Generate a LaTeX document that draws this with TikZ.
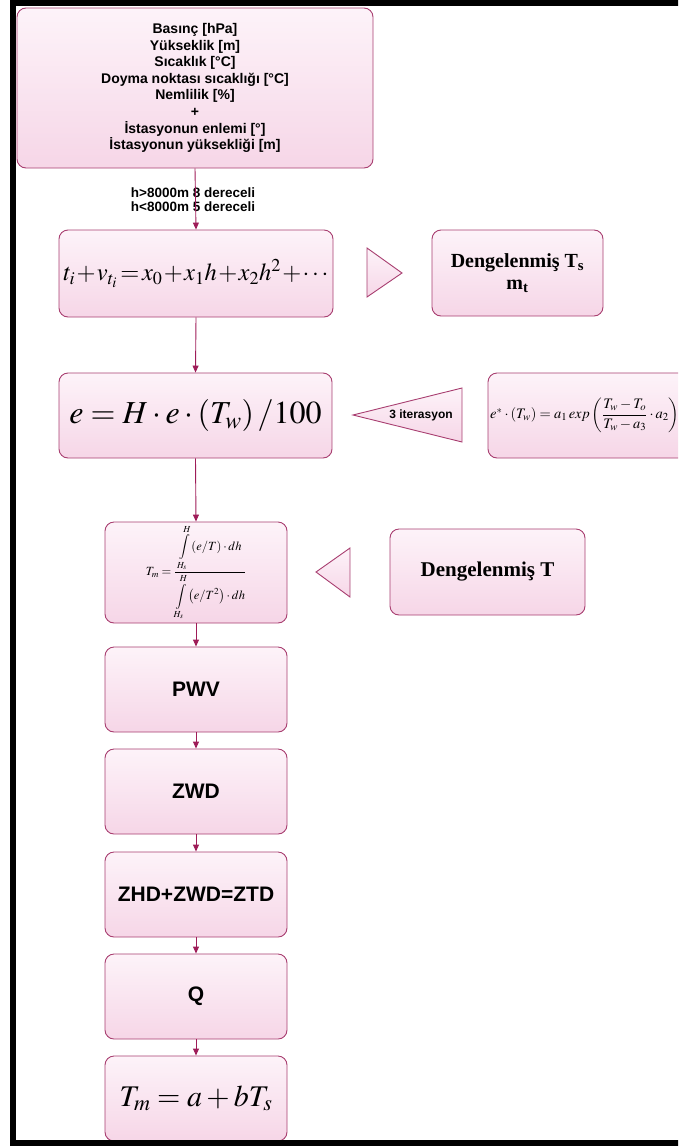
\documentclass[tikz,border=0pt]{standalone}
\usepackage{mathptmx}
\usepackage[no-math]{fontspec}
\setmainfont{Liberation Serif}
\setsansfont{Liberation Sans}
\usetikzlibrary{arrows.meta}

\definecolor{edge}{RGB}{168,62,112}
\definecolor{flow}{RGB}{158,28,88}
\definecolor{pinkhi}{RGB}{253,243,249}
\definecolor{pinklo}{RGB}{246,214,231}

\begin{document}
\begin{tikzpicture}[x=1pt,y=-1pt,
  box/.style={draw=edge, line width=0.9pt, rounded corners=9pt,
    top color=pinkhi, bottom color=pinklo, inner sep=0pt},
  stage/.style={box, minimum width=182pt, minimum height=85pt,
    font=\sffamily\bfseries\fontsize{21}{24}\selectfont},
  tri/.style={draw=edge, line width=0.9pt, top color=pinkhi, bottom color=pinklo},
  flowarrow/.style={draw=flow, line width=0.9pt, -{Triangle[length=7pt,width=6pt]}},
  lbl/.style={font=\sffamily\bfseries\fontsize{13.5}{13.5}\selectfont, align=center, inner sep=0pt}
]
\useasboundingbox (0,0) rectangle (678,1146);
\clip (0,0) rectangle (678,1146);

% input data
\node[box, minimum width=356pt, minimum height=160pt, align=center,
  font=\sffamily\bfseries\fontsize{14}{16.6}\selectfont] (src) at (195,88)
  {Basınç [hPa]\\Yükseklik [m]\\Sıcaklık [°C]\\Doyma noktası sıcaklığı [°C]\\Nemlilik [\%]\\+\\İstasyonun enlemi [°]\\İstasyonun yüksekliği [m]};

\node[lbl] (cond) at (193,199.5) {h>8000m 8 dereceli\\h<8000m 5 dereceli};

% polynomial fit (tight operator spacing)
\node[box, minimum width=274pt, minimum height=87pt] (poly) at (196,273.5)
  {\fontsize{24.5}{28}\selectfont\medmuskip=1mu\thickmuskip=2mu
   $t_i + v_{t_i} = x_0 + x_1h + x_2h^2 + \cdots$};
\draw[tri] (367,248) -- (402,273) -- (367,297) -- cycle;
\node[box, minimum width=171pt, minimum height=86pt, align=center,
  font=\bfseries\fontsize{20}{22}\selectfont] (ts) at (517.5,273)
  {Dengelenmiş T\textsubscript{s}\\m\textsubscript{t}};

% vapour pressure
\node[box, minimum width=273pt, minimum height=85pt] (hum) at (195.5,415.5)
  {\fontsize{32}{36}\selectfont $e = H\cdot e\cdot\left(T_w\right)/100$};
\draw[tri] (353,415) -- (462,388) -- (462,442) -- cycle;
\node[font=\sffamily\bfseries\fontsize{12}{14}\selectfont, inner sep=0pt] (iter) at (421,415) {3 iterasyon};
\node[box, minimum width=240pt, minimum height=85pt] (sat) at (608,415.5) {};
\node[anchor=west, inner sep=0pt, font=\fontsize{14.5}{16}\selectfont] (satf) at (490,415)
  {$e^{*}\cdot\left(T_w\right) = a_1\,exp\left(\displaystyle\frac{T_w - T_o}{T_w - a_3}\cdot a_2\right)$};

% weighted mean temperature
\node[box, minimum width=182pt, minimum height=101pt] (tmint) at (196,572.5)
  {\fontsize{12.5}{14}\selectfont $\displaystyle T_m = \frac{\displaystyle\int\limits_{H_s}^{H}\left(e/T\right)\cdot dh}{\displaystyle\int\limits_{H_s}^{H}\left(e/T^2\right)\cdot dh}$};
\draw[tri] (316,572) -- (350,548) -- (350,597) -- cycle;
\node[box, minimum width=195pt, minimum height=86pt,
  font=\bfseries\fontsize{21}{24}\selectfont] (tbal) at (487.5,572) {Dengelenmiş T};

% chain of results
\node[stage] (pwv) at (196,689.5) {PWV};
\node[stage] (zwd) at (196,791.5) {ZWD};
\node[stage] (ztd) at (196,894.5) {ZHD+ZWD=ZTD};
\node[stage] (q) at (196,996.5) {Q};
\node[stage] (tmlin) at (196,1098.5) {\rmfamily\mdseries\fontsize{30}{34}\selectfont $T_m = a + bT_s$};

% connectors
\draw[flowarrow] (src.south) -- (poly.north);
\draw[flowarrow] (poly.south) -- (hum.north);
\draw[flowarrow] (hum.south) -- (tmint.north);
\draw[flowarrow] (tmint.south) -- (pwv.north);
\draw[flowarrow] (pwv.south) -- (zwd.north);
\draw[flowarrow] (zwd.south) -- (ztd.north);
\draw[flowarrow] (ztd.south) -- (q.north);
\draw[flowarrow] (q.south) -- (tmlin.north);

% frame
\draw[line width=6pt] (700,3) -- (13,3) -- (13,1143) -- (700,1143);
\end{tikzpicture}
\end{document}
